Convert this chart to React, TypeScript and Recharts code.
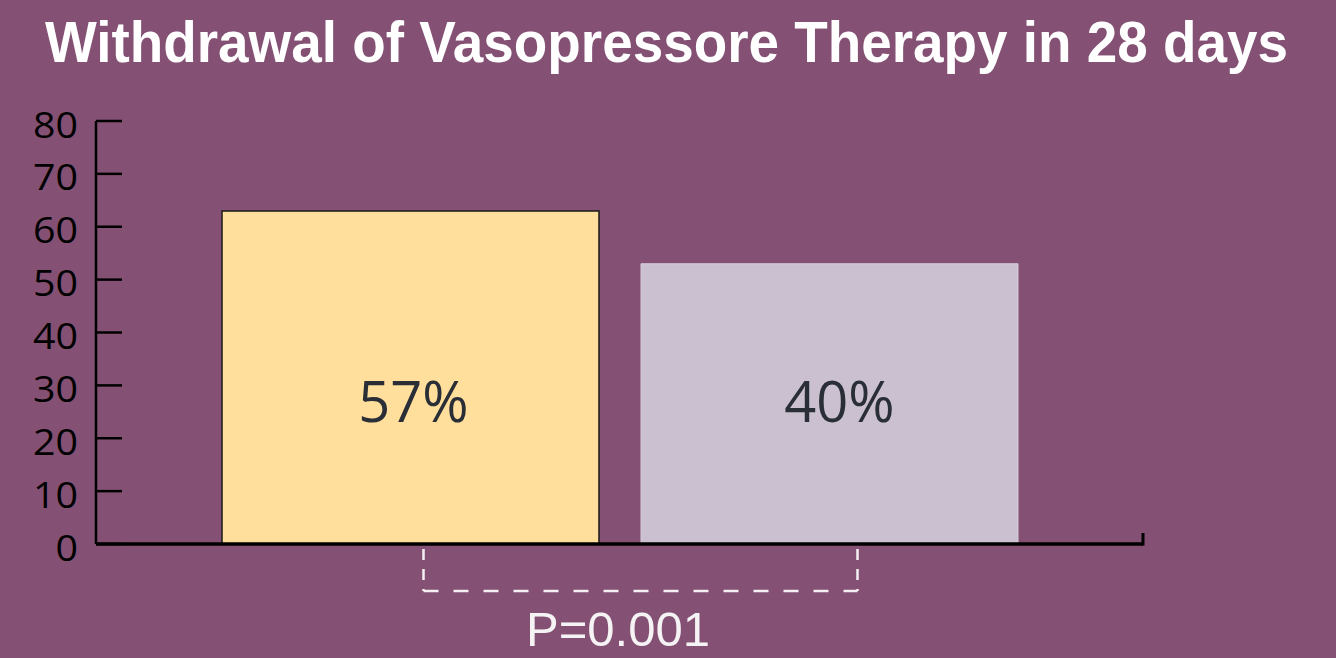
import React from "react";
import { BarChart, Bar, XAxis, YAxis, Cell, LabelList, ReferenceLine } from "recharts";

const categories = ["Treatment", "Control"];
const values = [63, 53];
const barLabels = ["57%", "40%"];
const barColors = ["#FFDF9B", "#CBC0CF"];
const barStrokes = ["#1a1a1a", "#d6ccd9"];
const yTicks = [0, 10, 20, 30, 40, 50, 60, 70, 80];
const titleText = "Withdrawal of Vasopressore Therapy in 28 days";
const pValueText = "P=0.001";

const data = categories.map((c, i) => ({ name: c, value: values[i], label: barLabels[i] }));

const W = 1336;
const H = 658;
const BG = "#845174";
const MARGIN = { top: 121, right: 193, bottom: 104, left: 0 };
const YAXIS_W = 96;
const XAXIS_H = 10;
const PAD_L = 105;
const PAD_R = 104;
const PLOT_LEFT = MARGIN.left + YAXIS_W;
const PLOT_RIGHT = W - MARGIN.right;
const PLOT_BOTTOM = H - MARGIN.bottom - XAXIS_H;
const BAND = (PLOT_RIGHT - PLOT_LEFT - PAD_L - PAD_R) / categories.length;

const YTick = (props: any) => {
  const { x, y, payload } = props;
  const s = String(payload.value);
  return (
    <g>
      <line x1={x} x2={x + 26} y1={y} y2={y} stroke="#000" strokeWidth={2.5} />
      <text
        x={x - 18}
        y={y + 2}
        textAnchor="end"
        dominantBaseline="central"
        fontFamily="'Open Sans', 'Noto Sans', sans-serif"
        fontSize={37}
        fill="#000"
        textLength={s.length * 22.5}
        lengthAdjust="spacingAndGlyphs"
      >
        {s}
      </text>
    </g>
  );
};

const BarText = (props: any) => {
  const { x, y, width, height, value, index } = props;
  return (
    <text
      x={x + width / 2 + (index === 1 ? 10 : 3)}
      y={y + height - 122}
      textAnchor="middle"
      fontFamily="'Open Sans', 'Noto Sans', sans-serif"
      fontSize={56}
      fill="#2a2e36"
    >
      {value}
    </text>
  );
};

export default function App() {
  const c1 = PLOT_LEFT + PAD_L + BAND * 0.5;
  const c2 = PLOT_LEFT + PAD_L + BAND * 1.5;
  const bx1 = c1 + 13;
  const bx2 = c2 + 28;
  const by = 591;
  return (
    <div
      style={{
        position: "fixed",
        left: 0,
        top: 0,
        width: W,
        height: H,
        background: BG,
        overflow: "hidden",
      }}
    >
      <div style={{ position: "absolute", left: 0, top: 0 }}>
        <BarChart width={W} height={H} data={data} margin={MARGIN} barSize={377}>
          <XAxis
            dataKey="name"
            height={XAXIS_H}
            tick={false}
            tickLine={false}
            axisLine={{ stroke: "#000", strokeWidth: 3 }}
            padding={{ left: PAD_L, right: PAD_R }}
          />
          <YAxis
            width={YAXIS_W}
            domain={[0, 80]}
            ticks={yTicks}
            interval={0}
            tickSize={0}
            tickMargin={0}
            tickLine={false}
            tick={<YTick />}
            axisLine={{ stroke: "#000", strokeWidth: 2.5 }}
          />
          <Bar dataKey="value" isAnimationActive={false}>
            {data.map((d, i) => (
              <Cell key={d.name} fill={barColors[i]} stroke={barStrokes[i]} strokeWidth={i === 0 ? 1.5 : 1} />
            ))}
            <LabelList dataKey="label" content={<BarText />} />
          </Bar>
          <ReferenceLine y={0} stroke="#000" strokeWidth={3} />
        </BarChart>
      </div>
      <svg
        width={W}
        height={H}
        style={{ position: "absolute", left: 0, top: 0, pointerEvents: "none" }}
      >
        <text
          x={45}
          y={62}
          fontFamily="'Liberation Sans Narrow', 'Liberation Sans', Arial, sans-serif"
          fontWeight="bold"
          fontSize={57}
          fill="#ffffff"
          textLength={1243}
          lengthAdjust="spacingAndGlyphs"
        >
          {titleText}
        </text>
        <line x1={PLOT_RIGHT} x2={PLOT_RIGHT} y1={PLOT_BOTTOM - 11} y2={PLOT_BOTTOM + 1.5} stroke="#000" strokeWidth={3} />
        <g stroke="#f4f0f2" strokeWidth={2.5} fill="none">
          <line x1={bx1} x2={bx1} y1={PLOT_BOTTOM + 5} y2={by} strokeDasharray="11 9" />
          <line x1={bx2} x2={bx2} y1={PLOT_BOTTOM + 5} y2={by} strokeDasharray="11 9" />
          <line x1={bx1} x2={bx2} y1={by} y2={by} strokeDasharray="15 15" />
        </g>
        <text
          x={618}
          y={646}
          textAnchor="middle"
          fontFamily="'Liberation Sans', Arial, sans-serif"
          fontSize={49}
          fill="#f6f3f5"
        >
          {pValueText}
        </text>
      </svg>
    </div>
  );
}
